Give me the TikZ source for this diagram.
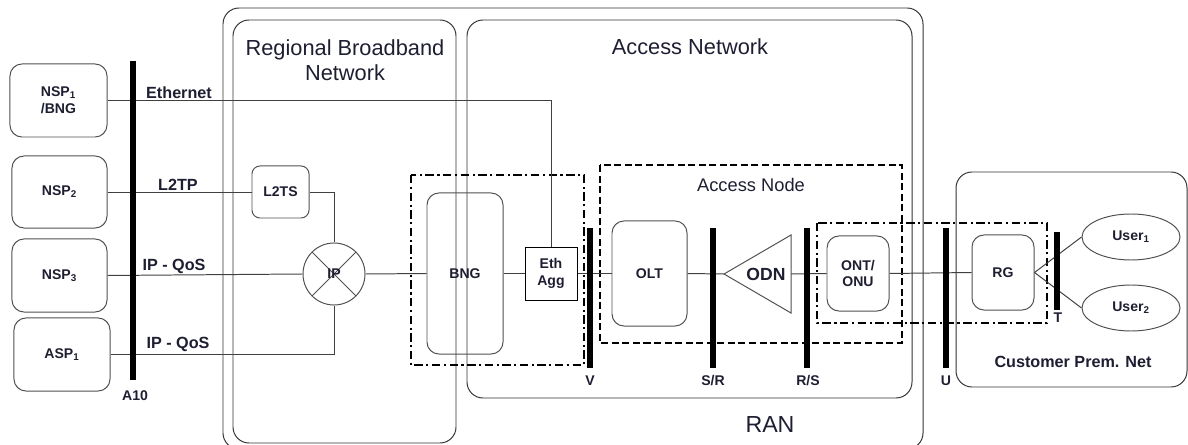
\documentclass[tikz,border=0pt]{standalone}
\usepackage{fontspec}
\setmainfont{Liberation Sans}
\usepackage{tikz}
\usetikzlibrary{shapes, arrows, positioning}

\definecolor{inkc}{RGB}{30,30,50}
\definecolor{edgec}{RGB}{80,80,80}

\begin{document}
\begin{tikzpicture}[x=0.025cm, y=-0.025cm, line width=0.7pt,
    box/.style={rectangle, rounded corners=0.3cm, draw=edgec, text=inkc, inner sep=1pt, align=center, font=\fontsize{10}{12}\selectfont\bfseries},
    bar/.style={rectangle, fill=black, inner sep=0pt, minimum width=0.15cm},
    lbl/.style={text=inkc, inner sep=1pt, font=\fontsize{11.5}{13}\selectfont\bfseries},
    title/.style={text=inkc, inner sep=1pt, align=center, font=\fontsize{15.5}{18}\selectfont},
    region/.style={draw=black!80, rounded corners=0.4cm},
    zone/.style={draw=black, line width=1.3pt, dash pattern=on 6pt off 2.5pt on 1.5pt off 2.5pt},
    wire/.style={draw=black!75}]
    \useasboundingbox (0,0) rectangle (1188,445);

    % Regions
    \draw[region] (223,8) rectangle (923,449);
    \draw[region] (233,20) rectangle (456,443);
    \draw[region] (467,20) rectangle (912,398);
    \draw[region] (956,172) rectangle (1187,387);
    \node[title] (rbn) at (345,60) {Regional Broadband\\Network};
    \node[title] (accnet) at (690,47) {Access Network};
    \node[title, font=\fontsize{16.5}{19}\selectfont] (ran) at (770,425) {RAN};
    \node[lbl] (cpn) at (1073,362) {Customer Prem. Net};

    % Zones
    \draw[zone] (411,175) rectangle (584,365);
    \draw[draw=black, line width=1.3pt, dash pattern=on 5pt off 2.5pt] (600,165) rectangle (902,343);
    \node[title, font=\fontsize{13}{15}\selectfont] (accnode) at (751,185) {Access Node};
    \draw[zone] (817,223) rectangle (1047,323);

    % Define nodes
    \node[box, minimum width=2.425cm, minimum height=1.825cm] (nsp1) at (58.5,100.5) {NSP\textsubscript{1}\\/BNG};
    \node[box, minimum width=2.375cm, minimum height=1.8cm] (nsp2) at (59.5,192) {NSP\textsubscript{2}};
    \node[box, minimum width=2.375cm, minimum height=1.825cm] (nsp3) at (59.5,275.5) {NSP\textsubscript{3}};
    \node[box, minimum width=2.4cm, minimum height=1.825cm] (asp1) at (62,354.5) {ASP\textsubscript{1}};
    \node[box, rounded corners=0.2cm, minimum width=1.425cm, minimum height=1.3cm] (l2ts) at (280.5,192) {L2TS};
    \node[box, circle, minimum size=1.55cm, inner sep=0pt,
        path picture={\draw[edgec] (path picture bounding box.north west) -- (path picture bounding box.south east)
            (path picture bounding box.north east) -- (path picture bounding box.south west);}] (ip) at (334,274) {\raisebox{-0.5ex}{IP}};
    \node[box, minimum width=1.9cm, minimum height=4.025cm] (bng) at (465,273.5) {BNG};
    \node[box, rounded corners=0pt, draw=black, minimum width=1.3cm, minimum height=1.325cm] (ethagg) at (551,273.5) {Eth\\Agg};
    \node[box, minimum width=1.875cm, minimum height=2.625cm] (olt) at (649.5,273.5) {OLT};
    \node[box, minimum width=1.55cm, minimum height=1.875cm] (ont) at (858,273.5) {ONT/\\ONU};
    \node[box, minimum width=1.55cm, minimum height=1.875cm] (rg) at (1003,272.5) {RG};
    \node[box, ellipse, rounded corners=0pt, minimum width=2.45cm, minimum height=1.15cm] (user1) at (1131,237) {User\textsubscript{1}};
    \node[box, ellipse, rounded corners=0pt, minimum width=2.45cm, minimum height=1.15cm] (user2) at (1131,308) {User\textsubscript{2}};

    % ODN splitter
    \coordinate (odntip) at (724,274);
    \coordinate (odnbase) at (791,274);
    \draw[edgec] (odntip) -- (791,235) -- (791,313) -- cycle;
    \node[lbl, font=\fontsize{12.5}{14}\selectfont\bfseries] (odn) at (766,274) {ODN};

    % Connect nodes
    \draw[wire] (nsp1.east) -| (ethagg.north);
    \draw[wire] (nsp2.east) -- (l2ts.west);
    \draw[wire] (l2ts.east) -| (ip.north);
    \draw[wire] (nsp3.east) -- (ip.west);
    \draw[wire] (asp1.east) -| (ip.south);
    \draw[wire] (ip.east) -- (bng.west);
    \draw[wire] (bng.east) -- (ethagg.west);
    \draw[wire] (ethagg.east) -- (olt.west);
    \draw[wire] (olt.east) -- (odntip);
    \draw[wire] (odnbase) -- (ont.west);
    \draw[wire] (ont.east) -- (rg.west);
    \draw[wire] (rg.east) -- (user1.west);
    \draw[wire] (rg.east) -- (user2.west);

    % Line labels
    \node[lbl] (ethlbl) at (179,93) {Ethernet};
    \node[lbl] (l2tplbl) at (178,185) {L2TP};
    \node[lbl] (qos1lbl) at (174,266) {IP - QoS};
    \node[lbl] (qos2lbl) at (178,344) {IP - QoS};

    % Reference points
    \node[bar, minimum height=7.975cm] (a10) at (133,220.5) {};
    \node[bar, minimum height=3.475cm] (refv) at (589.5,298) {};
    \node[bar, minimum height=3.475cm] (refsr) at (713,298) {};
    \node[bar, minimum height=3.475cm] (refrs) at (806.5,298) {};
    \node[bar, minimum height=3.475cm] (refu) at (946,298) {};
    \node[bar, minimum height=1.95cm] (reft) at (1056.5,271) {};
    \node[lbl, font=\fontsize{10}{12}\selectfont\bfseries] at (135,396) {A10};
    \node[lbl, font=\fontsize{10}{12}\selectfont\bfseries] at (590,381) {V};
    \node[lbl, font=\fontsize{10}{12}\selectfont\bfseries] at (713,381) {S/R};
    \node[lbl, font=\fontsize{10}{12}\selectfont\bfseries] at (808,381) {R/S};
    \node[lbl, font=\fontsize{10}{12}\selectfont\bfseries] at (946,381) {U};
    \node[lbl, font=\fontsize{10}{12}\selectfont\bfseries] at (1058,318) {T};
\end{tikzpicture}
\end{document}
